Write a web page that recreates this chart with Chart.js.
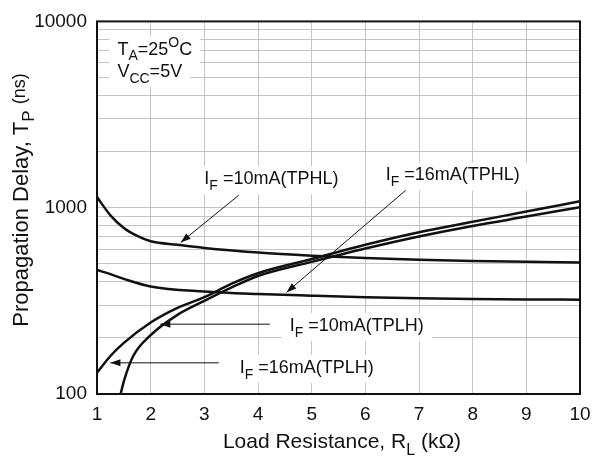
<!DOCTYPE html>
<html>
<head>
<meta charset="utf-8">
<script src="https://cdn.jsdelivr.net/npm/chart.js@4.4.0/dist/chart.umd.min.js"></script>
<style>
  html, body { margin: 0; padding: 0; background: #fff; }
</style>
</head>
<body>
<canvas id="chart" width="600" height="456"></canvas>
<script>
// ===== DATA =====
const yGrid = [100, 200, 300, 400, 500, 600, 700, 800, 900,
               1000, 2000, 3000, 4000, 5000, 6000, 7000, 8000, 9000, 10000];
const yLabels = [100, 1000, 10000];

// IF = 10mA (TPHL)
const tphl10X = [1, 1.25, 1.5, 1.75, 2, 2.5, 3, 4, 5, 6, 7, 8, 9, 10];
const tphl10Y = [1140, 910, 778, 705, 660, 632, 608, 575, 553, 537, 526, 518, 512, 508];
// IF = 16mA (TPHL)
const tphl16X = [1, 1.25, 1.5, 2, 3, 4, 5, 6, 7, 8, 9, 10];
const tphl16Y = [463, 440, 415, 378, 355, 344, 337, 331, 327, 324, 322, 321];
// IF = 16mA (TPLH)
const tplh16X = [1, 1.25, 1.5, 2, 2.5, 3, 3.5, 4, 5, 6, 7, 8, 9, 10];
const tplh16Y = [130, 160, 188, 242, 290, 331, 390, 445, 530, 632, 738, 840, 953, 1083];
// IF = 10mA (TPLH)
const tplh10X = [1.44, 1.5, 1.67, 2, 2.5, 3, 3.5, 4, 5, 6, 7, 8, 9, 10];
const tplh10Y = [100, 117, 159, 207, 266, 316, 372, 430, 512, 604, 701, 798, 896, 1006];

// annotation text (data coords of left end / baseline)
const notes = [
  { x: 1.38, y: 6635, parts: [["T"], ["A", "sub"], ["=25"], ["O", "sup"], ["C"]] },
  { x: 1.38, y: 5005, parts: [["V"], ["CC", "sub"], ["=5V"]] },
  { x: 3.0, y: 1334, parts: [["I"], ["F", "sub"], [" =10mA(TPHL)"]] },
  { x: 6.38, y: 1400, parts: [["I"], ["F", "sub"], [" =16mA(TPHL)"]] },
  { x: 4.59, y: 218, parts: [["I"], ["F", "sub"], [" =10mA(TPLH)"]] },
  { x: 3.66, y: 130, parts: [["I"], ["F", "sub"], [" =16mA(TPLH)"]] }
];
const arrows = [
  { from: [3.64, 1166], to: [2.56, 651] },
  { from: [6.75, 1239], to: [4.53, 351] },
  { from: [4.22, 237], to: [2.18, 237] },
  { from: [3.27, 147], to: [1.25, 147] }
];

const FONT = '"Liberation Sans", Arial, sans-serif';

function pts(xs, ys) {
  return xs.map((x, i) => ({ x: x, y: ys[i] }));
}

function curve(xs, ys) {
  return {
    data: pts(xs, ys),
    borderColor: "#111",
    borderWidth: 2.5,
    pointRadius: 0,
    fill: false,
    cubicInterpolationMode: "monotone"
  };
}

// draw text made of normal / sub / sup pieces, returns width
function richText(ctx, x, y, parts, size, small, draw, offs) {
  offs = offs || { sub: size * 0.32, sup: -size * 0.42 };
  let cx = x;
  parts.forEach(p => {
    const kind = p[1] || "n";
    const s = kind === "n" ? size : (p[2] || small);
    const dy = offs[kind] || 0;
    ctx.font = s + "px " + FONT;
    if (draw) ctx.fillText(p[0], cx, y + dy);
    cx += ctx.measureText(p[0]).width;
  });
  return cx - x;
}

// ===== PLUGIN =====
const decor = {
  id: "decor",
  beforeDatasetsDraw(chart) {
    const { ctx, scales } = chart;
    ctx.save();
    ctx.fillStyle = "#fff";
    notes.forEach(n => {
      const px = scales.x.getPixelForValue(n.x);
      const py = scales.y.getPixelForValue(n.y);
      const w = richText(ctx, px, py, n.parts, 18, 14, false);
      ctx.fillRect(px - 8, py - 18, w + 16, 28);
    });
    ctx.restore();
  },
  afterDatasetsDraw(chart) {
    const { ctx, scales, chartArea } = chart;
    ctx.save();
    ctx.fillStyle = "#111";
    ctx.textBaseline = "alphabetic";
    ctx.textAlign = "left";
    notes.forEach(n => {
      const px = scales.x.getPixelForValue(n.x);
      const py = scales.y.getPixelForValue(n.y);
      richText(ctx, px, py, n.parts, 18, 14, true);
    });

    // arrows
    ctx.strokeStyle = "#111";
    ctx.lineWidth = 1;
    arrows.forEach(a => {
      const x1 = scales.x.getPixelForValue(a.from[0]);
      const y1 = scales.y.getPixelForValue(a.from[1]);
      const x2 = scales.x.getPixelForValue(a.to[0]);
      const y2 = scales.y.getPixelForValue(a.to[1]);
      const ang = Math.atan2(y2 - y1, x2 - x1);
      ctx.beginPath();
      ctx.moveTo(x1, y1);
      ctx.lineTo(x2, y2);
      ctx.stroke();
      ctx.beginPath();
      ctx.moveTo(x2, y2);
      ctx.lineTo(x2 - 10 * Math.cos(ang) + 3.5 * Math.sin(ang), y2 - 10 * Math.sin(ang) - 3.5 * Math.cos(ang));
      ctx.lineTo(x2 - 10 * Math.cos(ang) - 3.5 * Math.sin(ang), y2 - 10 * Math.sin(ang) + 3.5 * Math.cos(ang));
      ctx.closePath();
      ctx.fill();
    });

    // frame
    ctx.lineWidth = 2;
    ctx.strokeRect(chartArea.left, chartArea.top, chartArea.right - chartArea.left, chartArea.bottom - chartArea.top);

    // x title
    const xParts = [["Load Resistance, R"], ["L", "sub", 16], [" (k\u03a9)"]];
    const xw = richText(ctx, 0, 0, xParts, 21, 16, false);
    richText(ctx, 342 - xw / 2, 448, xParts, 21, 16, true, { sub: 7 });

    // y title
    ctx.translate(28, 200);
    ctx.rotate(-Math.PI / 2);
    const yParts = [["Propagation Delay, T"], ["P", "sub", 17], [" "], ["(ns)", "sup", 18]];
    const yw = richText(ctx, 0, 0, yParts, 22, 17, false);
    richText(ctx, -yw / 2, 0, yParts, 22, 17, true, { sub: 6, sup: -3 });
    ctx.restore();
  }
};

// ===== CHART =====
const ctx = document.getElementById("chart").getContext("2d");

new Chart(ctx, {
  type: "line",
  data: {
    datasets: [
      curve(tphl10X, tphl10Y),
      curve(tphl16X, tphl16Y),
      curve(tplh16X, tplh16Y),
      curve(tplh10X, tplh10Y)
    ]
  },
  options: {
    responsive: false,
    animation: false,
    layout: { padding: { left: 0, right: 20, top: 18, bottom: 0 } },
    plugins: {
      legend: { display: false },
      tooltip: { enabled: false }
    },
    scales: {
      x: {
        type: "linear",
        min: 1,
        max: 10,
        afterFit: s => { s.height = 62; },
        grid: { color: "#c4c4c4", lineWidth: 1, drawTicks: false },
        border: { display: false },
        ticks: {
          stepSize: 1,
          padding: 9,
          color: "#111",
          font: { family: FONT, size: 19 }
        }
      },
      y: {
        type: "logarithmic",
        min: 100,
        max: 10000,
        afterFit: s => { s.width = 97; },
        afterBuildTicks: s => { s.ticks = yGrid.map(v => ({ value: v })); },
        grid: { color: "#c4c4c4", lineWidth: 1, drawTicks: false },
        border: { display: false },
        ticks: {
          autoSkip: false,
          padding: 10,
          color: "#111",
          font: { family: FONT, size: 19 },
          callback: v => (yLabels.includes(v) ? String(v) : "")
        }
      }
    }
  },
  plugins: [decor]
});
</script>
</body>
</html>
